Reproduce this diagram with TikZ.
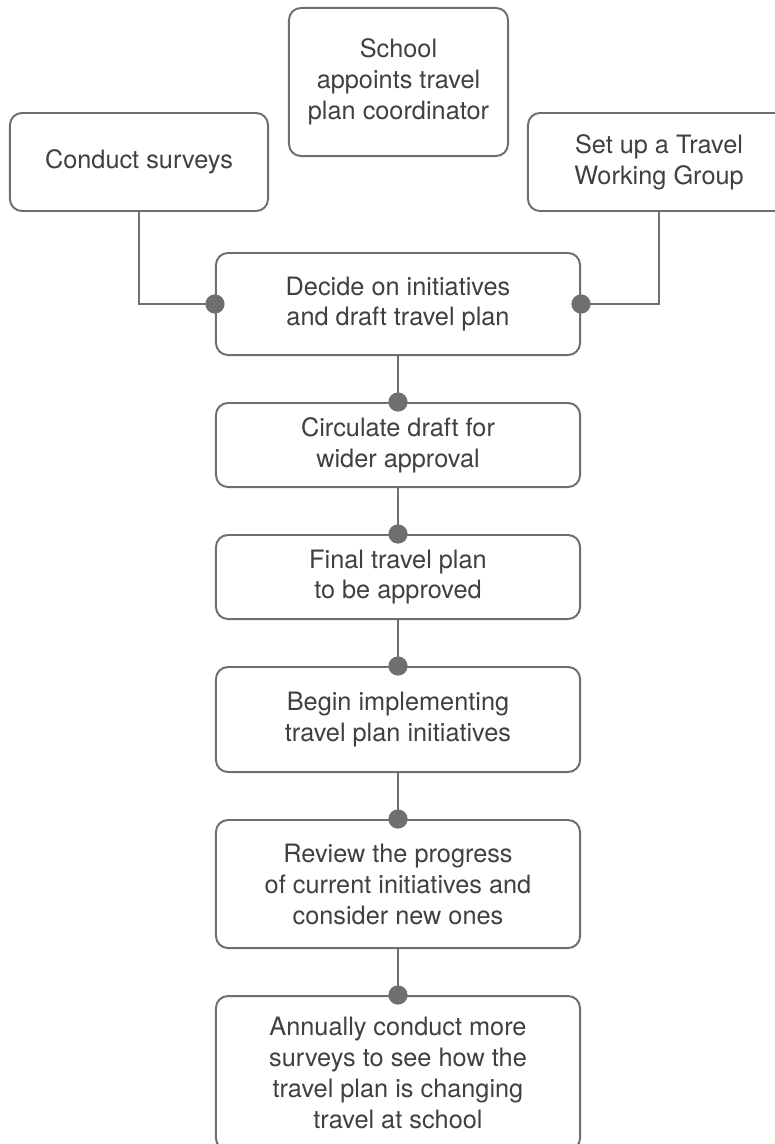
\documentclass[tikz,border=0pt]{standalone}
\usepackage{fontspec}
\setmainfont{TeX Gyre Heros}
\usepackage{tikz}
\usetikzlibrary{chains, positioning}
\definecolor{linegray}{HTML}{6E6E73}
\definecolor{textgray}{HTML}{404040}
\tikzset{
  stepchain/.style={
    rectangle,
    rounded corners=0.3cm,
    draw=linegray, line width=1.4pt,
    fill=white,
    text=textgray,
    minimum width=9.1cm,
    align=center,
    font=\fontsize{18}{22}\selectfont,
    on chain},
  topbox/.style={
    rectangle,
    rounded corners=0.3cm,
    draw=linegray, line width=1.4pt,
    text=textgray,
    align=center,
    font=\fontsize{18}{22}\selectfont},
  line/.style={draw=linegray, line width=1.4pt},
  every join/.style={line},
  dot/.style={fill=linegray},
}
\begin{document}
\begin{tikzpicture}[x=0.025cm, y=-0.025cm, node distance=1.15cm, start chain=going below]
     \useasboundingbox (0,0) rectangle (775,1144);
     % top row
     \node[topbox, minimum width=5.475cm, minimum height=3.7cm] (School) at (398.5,82) {School\\appoints travel\\plan coordinator};
     \node[topbox, minimum width=6.45cm, minimum height=2.45cm] (Surveys) at (139,162) {Conduct surveys};
     \node[topbox, minimum width=6.55cm, minimum height=2.45cm] (WorkingGroup) at (659,162) {Set up a Travel\\Working Group};
     % main column
     \node[stepchain, minimum height=2.55cm] (Decide) at (398,304) {Decide on initiatives\\and draft travel plan};
     \node[stepchain, join, minimum height=2.1cm] (Circulate) {Circulate draft for\\wider approval};
     \node[stepchain, join, minimum height=2.1cm] (Final) {Final travel plan\\to be approved};
     \node[stepchain, join, minimum height=2.625cm] (Begin) {Begin implementing\\travel plan initiatives};
     \node[stepchain, join, minimum height=3.2cm] (Review) {Review the progress\\of current initiatives and\\consider new ones};
     \node[stepchain, join, minimum height=3.85cm] (Annual) {Annually conduct more\\surveys to see how the\\travel plan is changing\\travel at school};
     \draw[line] (Surveys) |- (Decide.west);
     \draw[line] (WorkingGroup) |- (Decide.east);
     \fill[dot] (Decide.west) circle (0.24cm);
     \fill[dot] (Decide.east) circle (0.24cm);
     \foreach \n in {Circulate, Final, Begin, Review, Annual}
        \fill[dot] (\n.north) circle (0.24cm);
\end{tikzpicture}
\end{document}
